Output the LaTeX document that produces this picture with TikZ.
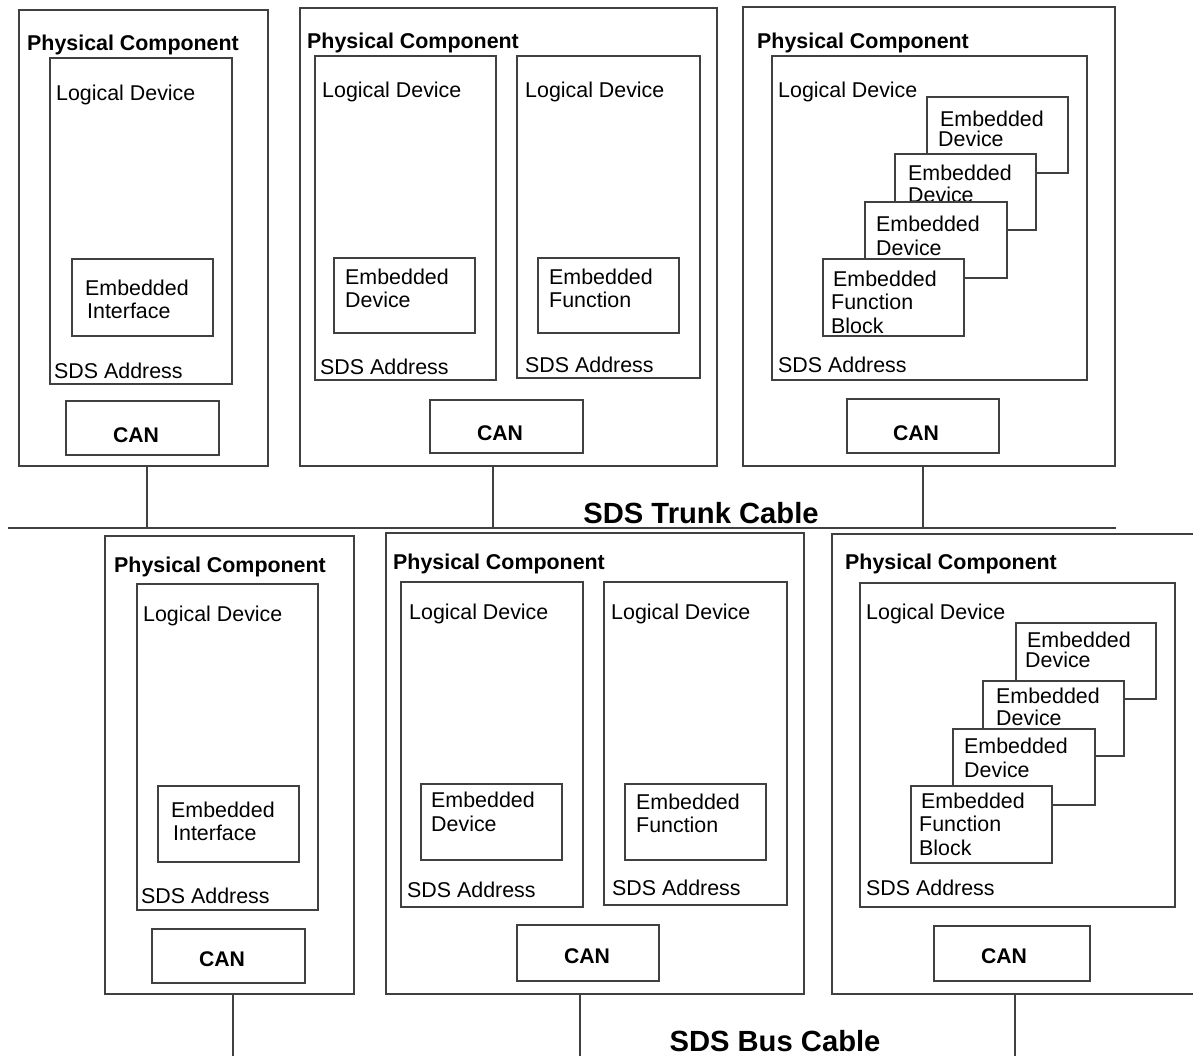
\documentclass[tikz,border=0pt]{standalone}
\usepackage{fontspec}
\setmainfont{Liberation Sans}
\tikzset{
  box/.style={draw=black!75, line width=1.1pt, fill=white, inner sep=0pt, outer sep=0pt, anchor=north west},
  wire/.style={draw=black!75, line width=1.1pt},
  txt/.style={anchor=base west, inner sep=0pt, font=\fontsize{21.4}{24}\selectfont},
  btxt/.style={anchor=base west, inner sep=0pt, font=\fontsize{21.4}{24}\selectfont\bfseries},
  cantxt/.style={anchor=base, inner sep=0pt, font=\fontsize{21.2}{24}\selectfont\bfseries},
  cabletxt/.style={anchor=base, inner sep=0pt, font=\fontsize{29.2}{32}\selectfont\bfseries}
}
\newcommand{\bx}[5]{\node[box, minimum width=#4pt-#2pt, minimum height=#5pt-#3pt] (#1) at (#2,#3) {};}
\begin{document}
\begin{tikzpicture}[x=1pt,y=-1pt]
\useasboundingbox (0,0) rectangle (1193,1055);
% ================= TOP ROW =================
% PC1
\bx{pc1}{19}{10}{268}{466}
\node[btxt] (pc1t) at (27,50) {Physical Component};
\bx{ld1}{50}{58}{232}{384}
\node[txt] (ld1t) at (56,100) {Logical Device};
\node[txt] (ld1a) at (54,378) {SDS Address};
\bx{ei1}{72}{259}{213}{336}
\node[txt] (ei1a) at (85,295) {Embedded};
\node[txt] (ei1b) at (87,318) {Interface};
\bx{can1}{66}{401}{219}{455}
\node[cantxt] (can1t) at (136,442) {CAN};
% PC2
\bx{pc2}{300}{8}{717}{466}
\node[btxt] (pc2t) at (307,48) {Physical Component};
\bx{ld2a}{315}{56}{496}{380}
\node[txt] (ld2at) at (322,97) {Logical Device};
\node[txt] (ld2aa) at (320,374) {SDS Address};
\bx{ed2}{334}{258}{475}{333}
\node[txt] (ed2a) at (345,284) {Embedded};
\node[txt] (ed2b) at (345,307) {Device};
\bx{ld2b}{517}{56}{700}{378}
\node[txt] (ld2bt) at (525,97) {Logical Device};
\node[txt] (ld2ba) at (525,372) {SDS Address};
\bx{ef2}{538}{258}{679}{333}
\node[txt] (ef2a) at (549,284) {Embedded};
\node[txt] (ef2b) at (549,307) {Function};
\bx{can2}{430}{400}{583}{453}
\node[cantxt] (can2t) at (500,440) {CAN};
% PC3
\bx{pc3}{743}{7}{1115}{466}
\node[btxt] (pc3t) at (757,48) {Physical Component};
\bx{ld3}{772}{56}{1087}{380}
\node[txt] (ld3t) at (778,97) {Logical Device};
\node[txt] (ld3a) at (778,372) {SDS Address};
\bx{s31}{927}{97}{1068}{173}
\node[txt] (s31a) at (940,126) {Embedded};
\node[txt] (s31b) at (938,146) {Device};
\bx{s32}{895}{154}{1036}{230}
\node[txt] (s32a) at (908,180) {Embedded};
\node[txt] (s32b) at (908,202) {Device};
\bx{s33}{865}{202}{1007}{278}
\node[txt] (s33a) at (876,231) {Embedded};
\node[txt] (s33b) at (876,255) {Device};
\bx{s34}{823}{259}{964}{336}
\node[txt] (s34a) at (833,286) {Embedded};
\node[txt] (s34b) at (831,309) {Function};
\node[txt] (s34c) at (831,333) {Block};
\bx{can3}{847}{399}{999}{453}
\node[cantxt] (can3t) at (916,440) {CAN};
% trunk
\coordinate (trL) at (8,528);
\coordinate (trR) at (1116,528);
\draw[wire] (trL) -- (trR);
\coordinate (t1) at (147,528);
\coordinate (t2) at (493,528);
\coordinate (t3) at (923,528);
\draw[wire] (pc1.south -| t1) -- (t1);
\draw[wire] (pc2.south -| t2) -- (t2);
\draw[wire] (pc3.south -| t3) -- (t3);
\node[cabletxt] (trunk) at (701,523) {SDS Trunk Cable};
% ================= BOTTOM ROW =================
% PC4
\bx{pc4}{105}{536}{354}{994}
\node[btxt] (pc4t) at (114,572) {Physical Component};
\bx{ld4}{137}{584}{318}{910}
\node[txt] (ld4t) at (143,621) {Logical Device};
\node[txt] (ld4a) at (141,903) {SDS Address};
\bx{ei4}{158}{786}{299}{862}
\node[txt] (ei4a) at (171,817) {Embedded};
\node[txt] (ei4b) at (173,840) {Interface};
\bx{can4}{152}{929}{305}{983}
\node[cantxt] (can4t) at (222,966) {CAN};
% PC5
\bx{pc5}{386}{533}{804}{994}
\node[btxt] (pc5t) at (393,569) {Physical Component};
\bx{ld5a}{401}{582}{583}{907}
\node[txt] (ld5at) at (409,619) {Logical Device};
\node[txt] (ld5aa) at (407,897) {SDS Address};
\bx{ed5}{421}{784}{562}{860}
\node[txt] (ed5a) at (431,807) {Embedded};
\node[txt] (ed5b) at (431,831) {Device};
\bx{ld5b}{604}{582}{787}{905}
\node[txt] (ld5bt) at (611,619) {Logical Device};
\node[txt] (ld5ba) at (612,895) {SDS Address};
\bx{ef5}{625}{784}{766}{860}
\node[txt] (ef5a) at (636,809) {Embedded};
\node[txt] (ef5b) at (636,832) {Function};
\bx{can5}{517}{925}{659}{981}
\node[cantxt] (can5t) at (587,963) {CAN};
% PC6
\bx{pc6}{832}{534}{1200}{994}
\node[btxt] (pc6t) at (845,569) {Physical Component};
\bx{ld6}{860}{583}{1175}{907}
\node[txt] (ld6t) at (866,619) {Logical Device};
\node[txt] (ld6a) at (866,895) {SDS Address};
\bx{s61}{1016}{623}{1156}{699}
\node[txt] (s61a) at (1027,647) {Embedded};
\node[txt] (s61b) at (1025,667) {Device};
\bx{s62}{983}{681}{1124}{756}
\node[txt] (s62a) at (996,703) {Embedded};
\node[txt] (s62b) at (996,725) {Device};
\bx{s63}{953}{729}{1095}{805}
\node[txt] (s63a) at (964,753) {Embedded};
\node[txt] (s63b) at (964,777) {Device};
\bx{s64}{911}{786}{1052}{863}
\node[txt] (s64a) at (921,808) {Embedded};
\node[txt] (s64b) at (919,831) {Function};
\node[txt] (s64c) at (919,855) {Block};
\bx{can6}{934}{926}{1090}{981}
\node[cantxt] (can6t) at (1004,963) {CAN};
% bus
\coordinate (b4) at (233,1056);
\coordinate (b5) at (580,1056);
\coordinate (b6) at (1015,1056);
\draw[wire] (pc4.south -| b4) -- (b4);
\draw[wire] (pc5.south -| b5) -- (b5);
\draw[wire] (pc6.south -| b6) -- (b6);
\node[cabletxt] (bus) at (775,1051) {SDS Bus Cable};
\end{tikzpicture}
\end{document}
